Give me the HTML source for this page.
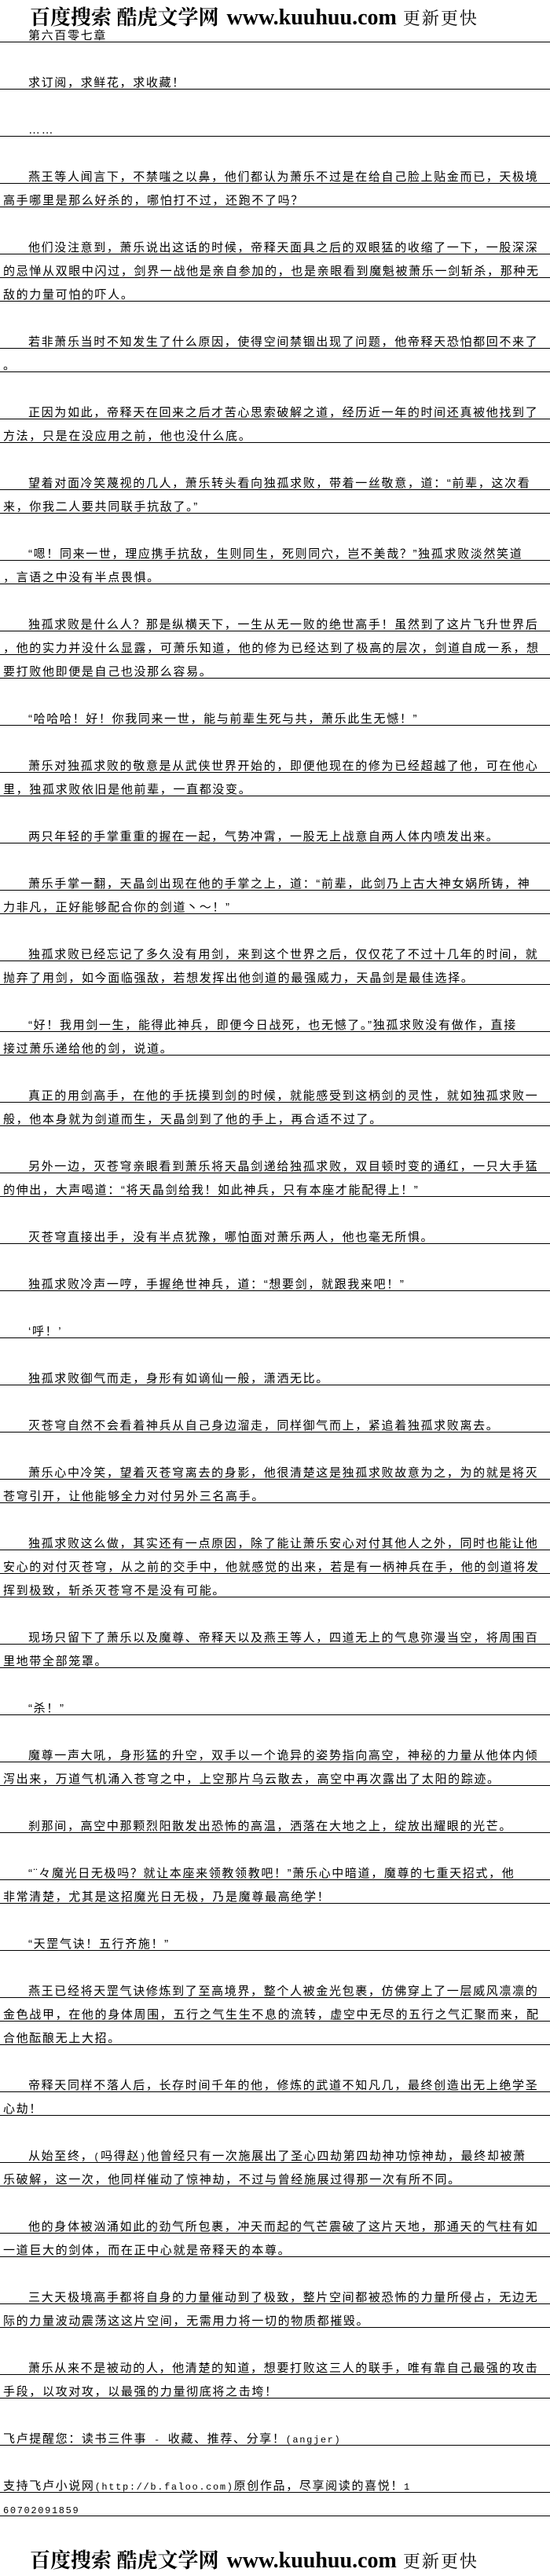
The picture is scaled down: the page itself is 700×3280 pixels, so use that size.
<!DOCTYPE html>
<html><head><meta charset="utf-8"><style>
html,body{margin:0;padding:0;background:#fff;}
body{width:700px;height:3280px;position:relative;overflow:hidden;font-family:"Liberation Sans","Noto Sans CJK SC",sans-serif;color:#000;}
.hd{position:absolute;left:38px;height:30px;white-space:nowrap;font-family:"Liberation Serif","Noto Serif CJK SC",serif;font-weight:bold;color:#000;}
.hd .c{font-size:26px;letter-spacing:0px;}
.hd .w{font-size:28px;margin:0 8px 0 10px;}
.hd .s{font-size:22px;letter-spacing:2px;font-weight:normal;}
#body{position:absolute;top:24px;left:0;width:700px;}
.l{height:30px;box-sizing:border-box;border-bottom:1px solid #000;white-space:nowrap;overflow:hidden;font-size:15px;letter-spacing:1.65px;line-height:14px;padding-top:15px;padding-left:4px;}
.i{padding-left:36px;}
.b{height:30px;}
.m{font-family:"Liberation Mono",monospace;font-size:12px;}
</style></head><body>
<div class="hd" style="top:2px;"><span class="c">百度搜索 酷虎文学网</span><span class="w">www.kuuhuu.com</span><span class="s">更新更快</span></div>
<div id="body">
<div class="l i">第六百零七章</div><div class="b"></div>
<div class="l i">求订阅，求鲜花，求收藏！</div><div class="b"></div>
<div class="l i">……</div><div class="b"></div>
<div class="l i">燕王等人闻言下，不禁嗤之以鼻，他们都认为萧乐不过是在给自己脸上贴金而已，天极境</div>
<div class="l">高手哪里是那么好杀的，哪怕打不过，还跑不了吗？</div><div class="b"></div>
<div class="l i">他们没注意到，萧乐说出这话的时候，帝释天面具之后的双眼猛的收缩了一下，一股深深</div>
<div class="l">的忌惮从双眼中闪过，剑界一战他是亲自参加的，也是亲眼看到魔魁被萧乐一剑斩杀，那种无</div>
<div class="l">敌的力量可怕的吓人。</div><div class="b"></div>
<div class="l i">若非萧乐当时不知发生了什么原因，使得空间禁锢出现了问题，他帝释天恐怕都回不来了</div>
<div class="l">。</div><div class="b"></div>
<div class="l i">正因为如此，帝释天在回来之后才苦心思索破解之道，经历近一年的时间还真被他找到了</div>
<div class="l">方法，只是在没应用之前，他也没什么底。</div><div class="b"></div>
<div class="l i">望着对面冷笑蔑视的几人，萧乐转头看向独孤求败，带着一丝敬意，道：“前辈，这次看</div>
<div class="l">来，你我二人要共同联手抗敌了。”</div><div class="b"></div>
<div class="l i">“嗯！同来一世，理应携手抗敌，生则同生，死则同穴，岂不美哉？”独孤求败淡然笑道</div>
<div class="l">，言语之中没有半点畏惧。</div><div class="b"></div>
<div class="l i">独孤求败是什么人？那是纵横天下，一生从无一败的绝世高手！虽然到了这片飞升世界后</div>
<div class="l">，他的实力并没什么显露，可萧乐知道，他的修为已经达到了极高的层次，剑道自成一系，想</div>
<div class="l">要打败他即便是自己也没那么容易。</div><div class="b"></div>
<div class="l i">“哈哈哈！好！你我同来一世，能与前辈生死与共，萧乐此生无憾！”</div><div class="b"></div>
<div class="l i">萧乐对独孤求败的敬意是从武侠世界开始的，即便他现在的修为已经超越了他，可在他心</div>
<div class="l">里，独孤求败依旧是他前辈，一直都没变。</div><div class="b"></div>
<div class="l i">两只年轻的手掌重重的握在一起，气势冲霄，一股无上战意自两人体内喷发出来。</div><div class="b"></div>
<div class="l i">萧乐手掌一翻，天晶剑出现在他的手掌之上，道：“前辈，此剑乃上古大神女娲所铸，神</div>
<div class="l">力非凡，正好能够配合你的剑道丶～！”</div><div class="b"></div>
<div class="l i">独孤求败已经忘记了多久没有用剑，来到这个世界之后，仅仅花了不过十几年的时间，就</div>
<div class="l">抛弃了用剑，如今面临强敌，若想发挥出他剑道的最强威力，天晶剑是最佳选择。</div><div class="b"></div>
<div class="l i">“好！我用剑一生，能得此神兵，即便今日战死，也无憾了。”独孤求败没有做作，直接</div>
<div class="l">接过萧乐递给他的剑，说道。</div><div class="b"></div>
<div class="l i">真正的用剑高手，在他的手抚摸到剑的时候，就能感受到这柄剑的灵性，就如独孤求败一</div>
<div class="l">般，他本身就为剑道而生，天晶剑到了他的手上，再合适不过了。</div><div class="b"></div>
<div class="l i">另外一边，灭苍穹亲眼看到萧乐将天晶剑递给独孤求败，双目顿时变的通红，一只大手猛</div>
<div class="l">的伸出，大声喝道：“将天晶剑给我！如此神兵，只有本座才能配得上！”</div><div class="b"></div>
<div class="l i">灭苍穹直接出手，没有半点犹豫，哪怕面对萧乐两人，他也毫无所惧。</div><div class="b"></div>
<div class="l i">独孤求败冷声一哼，手握绝世神兵，道：“想要剑，就跟我来吧！”</div><div class="b"></div>
<div class="l i">‘呼！’</div><div class="b"></div>
<div class="l i">独孤求败御气而走，身形有如谪仙一般，潇洒无比。</div><div class="b"></div>
<div class="l i">灭苍穹自然不会看着神兵从自己身边溜走，同样御气而上，紧追着独孤求败离去。</div><div class="b"></div>
<div class="l i">萧乐心中冷笑，望着灭苍穹离去的身影，他很清楚这是独孤求败故意为之，为的就是将灭</div>
<div class="l">苍穹引开，让他能够全力对付另外三名高手。</div><div class="b"></div>
<div class="l i">独孤求败这么做，其实还有一点原因，除了能让萧乐安心对付其他人之外，同时也能让他</div>
<div class="l">安心的对付灭苍穹，从之前的交手中，他就感觉的出来，若是有一柄神兵在手，他的剑道将发</div>
<div class="l">挥到极致，斩杀灭苍穹不是没有可能。</div><div class="b"></div>
<div class="l i">现场只留下了萧乐以及魔尊、帝释天以及燕王等人，四道无上的气息弥漫当空，将周围百</div>
<div class="l">里地带全部笼罩。</div><div class="b"></div>
<div class="l i">“杀！”</div><div class="b"></div>
<div class="l i">魔尊一声大吼，身形猛的升空，双手以一个诡异的姿势指向高空，神秘的力量从他体内倾</div>
<div class="l">泻出来，万道气机涌入苍穹之中，上空那片乌云散去，高空中再次露出了太阳的踪迹。</div><div class="b"></div>
<div class="l i">刹那间，高空中那颗烈阳散发出恐怖的高温，洒落在大地之上，绽放出耀眼的光芒。</div><div class="b"></div>
<div class="l i">“¨々魔光日无极吗？就让本座来领教领教吧！”萧乐心中暗道，魔尊的七重天招式，他</div>
<div class="l">非常清楚，尤其是这招魔光日无极，乃是魔尊最高绝学！</div><div class="b"></div>
<div class="l i">“天罡气诀！五行齐施！”</div><div class="b"></div>
<div class="l i">燕王已经将天罡气诀修炼到了至高境界，整个人被金光包裹，仿佛穿上了一层威风凛凛的</div>
<div class="l">金色战甲，在他的身体周围，五行之气生生不息的流转，虚空中无尽的五行之气汇聚而来，配</div>
<div class="l">合他酝酿无上大招。</div><div class="b"></div>
<div class="l i">帝释天同样不落人后，长存时间千年的他，修炼的武道不知凡几，最终创造出无上绝学圣</div>
<div class="l">心劫！</div><div class="b"></div>
<div class="l i">从始至终，<span class="m">(</span>吗得赵<span class="m">)</span>他曾经只有一次施展出了圣心四劫第四劫神功惊神劫，最终却被萧</div>
<div class="l">乐破解，这一次，他同样催动了惊神劫，不过与曾经施展过得那一次有所不同。</div><div class="b"></div>
<div class="l i">他的身体被汹涌如此的劲气所包裹，冲天而起的气芒震破了这片天地，那通天的气柱有如</div>
<div class="l">一道巨大的剑体，而在正中心就是帝释天的本尊。</div><div class="b"></div>
<div class="l i">三大天极境高手都将自身的力量催动到了极致，整片空间都被恐怖的力量所侵占，无边无</div>
<div class="l">际的力量波动震荡这这片空间，无需用力将一切的物质都摧毁。</div><div class="b"></div>
<div class="l i">萧乐从来不是被动的人，他清楚的知道，想要打败这三人的联手，唯有靠自己最强的攻击</div>
<div class="l">手段，以攻对攻，以最强的力量彻底将之击垮！</div><div class="b"></div>
<div class="l">飞卢提醒您：读书三件事<span class="m"> - </span>收藏、推荐、分享！<span class="m">(angjer)</span></div><div class="b"></div>
<div class="l">支持飞卢小说网<span class="m">(http://b.faloo.com)</span>原创作品，尽享阅读的喜悦！<span class="m">1</span></div>
<div class="l"><span class="m">60702091859</span></div>
</div>
<div class="hd" style="top:3240px;"><span class="c">百度搜索 酷虎文学网</span><span class="w">www.kuuhuu.com</span><span class="s">更新更快</span></div>
</body></html>
